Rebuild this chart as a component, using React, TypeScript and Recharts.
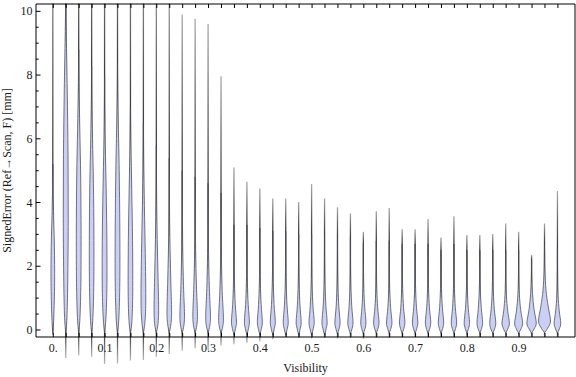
import React from 'react';
import { ComposedChart, Bar, XAxis, YAxis } from 'recharts';

// ---------- data ----------
const positions = [
  0, 0.025, 0.05, 0.075, 0.1, 0.125, 0.15, 0.175, 0.2, 0.225,
  0.25, 0.275, 0.3, 0.325, 0.35, 0.375, 0.4, 0.425, 0.45, 0.475,
  0.5, 0.525, 0.55, 0.575, 0.6, 0.625, 0.65, 0.675, 0.7, 0.725,
  0.75, 0.775, 0.8, 0.825, 0.85, 0.875, 0.9, 0.925, 0.95, 0.975,
];

const whiskerMax = [
  13, 13, 12.5, 12.5, 12.5, 12.5, 12.5, 12, 11.5, 11,
  9.9, 9.77, 9.6, 7.96, 5.1, 4.65, 4.44, 4.13, 4.13, 4.02,
  4.58, 4.13, 3.85, 3.66, 3.08, 3.73, 3.83, 3.16, 3.16, 3.48,
  2.9, 3.57, 2.98, 2.98, 3.01, 3.34, 3.08, 2.35, 3.34, 4.36,
];

const whiskerMin = [
  -0.16, -0.88, -0.8, -0.84, -1.07, -1.05, -0.96, -0.94, -0.84, -0.75,
  -0.65, -0.57, -0.63, -0.49, -0.45, -0.4, -0.36, -0.29, -0.22, -0.25,
  -0.27, -0.25, -0.27, -0.25, -0.28, -0.25, -0.24, -0.24, -0.23, -0.23,
  -0.23, -0.23, -0.23, -0.23, -0.22, -0.22, -0.22, -0.22, -0.22, -0.22,
];

// density profile knots per violin: [value, density]
const bodyProfiles: number[][][] = [
  [[-0.1, 0], [0.4, 1.0], [1.5, 1.8], [2.6, 1.6], [3.6, 0.8], [4.6, 0.2], [5.2, 0]],
  [[-0.1, 0], [0.4, 1.2], [1.5, 2.0], [3.5, 2.5], [5.5, 2.3], [7.5, 1.5], [9.2, 0.6], [10.2, 0.15]],
  [[-0.1, 0], [0.4, 1.3], [1.5, 2.2], [3.0, 2.4], [4.8, 2.0], [6.3, 1.1], [7.6, 0.4], [8.8, 0]],
  [[-0.1, 0], [0.4, 1.3], [1.5, 2.2], [3.0, 2.3], [4.6, 1.8], [6.0, 0.9], [7.2, 0.3], [8.3, 0]],
  [[-0.1, 0], [0.4, 1.4], [1.3, 2.3], [2.8, 2.3], [4.4, 1.6], [5.8, 0.7], [7.0, 0.2], [8.0, 0]],
  [[-0.1, 0], [0.4, 1.4], [1.5, 2.3], [3.2, 2.3], [5.0, 1.7], [6.3, 0.9], [7.4, 0.3], [8.4, 0]],
  [[-0.1, 0], [0.3, 1.5], [1.2, 2.3], [2.8, 2.1], [4.4, 1.3], [5.8, 0.5], [7.0, 0]],
  [[-0.1, 0], [0.3, 1.7], [1.0, 2.4], [2.4, 1.9], [3.9, 1.0], [5.3, 0.35], [6.5, 0]],
  [[-0.1, 0], [0.2, 1.7], [0.7, 2.3], [1.8, 1.6], [3.2, 0.7], [4.6, 0.2], [5.8, 0]],
  [[-0.1, 0], [0.2, 1.7], [0.6, 2.3], [1.6, 1.5], [2.9, 0.6], [4.2, 0.15], [5.4, 0]],
  [[-0.1, 0], [0.15, 1.7], [0.5, 2.3], [1.4, 1.3], [2.6, 0.5], [3.8, 0.12], [5.0, 0]],
  [[-0.1, 0], [0.15, 1.7], [0.5, 2.3], [1.4, 1.3], [2.5, 0.5], [3.7, 0.12], [4.8, 0]],
  [[-0.1, 0], [0.15, 1.8], [0.45, 2.4], [1.3, 1.3], [2.4, 0.5], [3.6, 0.1], [4.6, 0]],
  [[-0.1, 0], [0.12, 1.8], [0.4, 2.4], [1.2, 1.2], [2.2, 0.45], [3.3, 0.1], [4.3, 0]],
  [[-0.15, 0], [0.05, 1.6], [0.28, 2.5], [0.8, 1.3], [1.5, 0.5], [2.4, 0.12], [3.3, 0]],
  [[-0.15, 0], [0.05, 1.6], [0.28, 2.5], [0.8, 1.3], [1.5, 0.5], [2.4, 0.12], [3.3, 0]],
  [[-0.15, 0], [0.05, 1.6], [0.27, 2.5], [0.8, 1.3], [1.5, 0.5], [2.4, 0.12], [3.2, 0]],
  [[-0.15, 0], [0.05, 1.6], [0.27, 2.5], [0.8, 1.3], [1.5, 0.5], [2.3, 0.12], [3.1, 0]],
  [[-0.15, 0], [0.05, 1.6], [0.26, 2.5], [0.78, 1.3], [1.45, 0.5], [2.3, 0.12], [3.1, 0]],
  [[-0.15, 0], [0.05, 1.6], [0.26, 2.5], [0.78, 1.3], [1.45, 0.5], [2.3, 0.12], [3.0, 0]],
  [[-0.15, 0], [0.05, 1.7], [0.26, 2.6], [0.76, 1.35], [1.4, 0.5], [2.2, 0.12], [3.0, 0]],
  [[-0.15, 0], [0.05, 1.7], [0.26, 2.6], [0.76, 1.35], [1.4, 0.5], [2.2, 0.12], [3.0, 0]],
  [[-0.12, 0], [0.05, 1.7], [0.25, 2.6], [0.74, 1.35], [1.35, 0.5], [2.1, 0.12], [2.9, 0]],
  [[-0.12, 0], [0.05, 1.7], [0.25, 2.6], [0.74, 1.35], [1.35, 0.5], [2.1, 0.12], [2.9, 0]],
  [[-0.12, 0], [0.05, 1.7], [0.25, 2.6], [0.72, 1.35], [1.3, 0.5], [2.0, 0.12], [2.7, 0]],
  [[-0.1, 0], [0.05, 1.7], [0.25, 2.7], [0.7, 1.4], [1.3, 0.5], [2.1, 0.12], [2.8, 0]],
  [[-0.1, 0], [0.05, 1.7], [0.25, 2.7], [0.7, 1.4], [1.3, 0.5], [2.1, 0.12], [2.8, 0]],
  [[-0.1, 0], [0.05, 1.7], [0.25, 2.7], [0.7, 1.4], [1.3, 0.5], [2.0, 0.12], [2.7, 0]],
  [[-0.1, 0], [0.05, 1.7], [0.25, 2.7], [0.7, 1.4], [1.3, 0.5], [2.0, 0.12], [2.7, 0]],
  [[-0.1, 0], [0.05, 1.7], [0.25, 2.7], [0.7, 1.4], [1.3, 0.5], [2.0, 0.12], [2.7, 0]],
  [[-0.1, 0], [0.05, 1.7], [0.25, 2.7], [0.7, 1.4], [1.3, 0.5], [1.9, 0.12], [2.5, 0]],
  [[-0.1, 0], [0.05, 1.7], [0.25, 2.7], [0.7, 1.4], [1.3, 0.5], [2.0, 0.12], [2.7, 0]],
  [[-0.1, 0], [0.05, 1.7], [0.24, 2.7], [0.68, 1.4], [1.25, 0.5], [1.9, 0.12], [2.5, 0]],
  [[-0.1, 0], [0.05, 1.8], [0.24, 2.8], [0.68, 1.5], [1.25, 0.55], [1.9, 0.12], [2.5, 0]],
  [[-0.1, 0], [0.04, 1.9], [0.23, 3.0], [0.65, 1.6], [1.2, 0.6], [1.9, 0.14], [2.5, 0]],
  [[-0.1, 0], [0.04, 2.2], [0.22, 3.7], [0.6, 2.0], [1.1, 0.7], [1.8, 0.15], [2.5, 0]],
  [[-0.1, 0], [0.04, 2.4], [0.22, 4.0], [0.62, 2.1], [1.12, 0.75], [1.8, 0.15], [2.5, 0]],
  [[-0.1, 0], [0.04, 2.6], [0.22, 4.7], [0.65, 2.5], [1.15, 0.9], [1.7, 0.2], [2.2, 0]],
  [[-0.08, 0], [0.05, 3.0], [0.28, 6.0], [0.75, 3.6], [1.25, 1.5], [1.9, 0.4], [2.7, 0]],
  [[-0.1, 0], [0.04, 2.0], [0.22, 3.3], [0.6, 1.8], [1.1, 0.6], [1.8, 0.15], [2.6, 0]],
];

const xLabelValues = [0, 0.1, 0.2, 0.3, 0.4, 0.5, 0.6, 0.7, 0.8, 0.9];
const xLabelTexts = ['0.', '0.1', '0.2', '0.3', '0.4', '0.5', '0.6', '0.7', '0.8', '0.9'];
const yTickValues = [
  0, 0.5, 1, 1.5, 2, 2.5, 3, 3.5, 4, 4.5, 5, 5.5, 6, 6.5, 7, 7.5, 8, 8.5, 9, 9.5, 10,
];
const yLabelValues = [0, 2, 4, 6, 8, 10];
const yDomain = [-0.22, 10.23];
const xDomain = [-0.0334, 1.008];

const xTitle = 'Visibility';
const yTitle = 'SignedError (Ref\u2192Scan, F) [mm]';

// ---------- table ----------
const clampY = (v: number) => Math.max(yDomain[0], Math.min(yDomain[1], v));
const tableData = positions.map((p, i) => ({
  pos: p,
  lo: whiskerMin[i],
  hi: whiskerMax[i],
  profile: bodyProfiles[i],
  span: [clampY(whiskerMin[i]), clampY(whiskerMax[i])],
}));

const FONT = '"Liberation Serif", "Times New Roman", serif';
const TEXT_COLOR = '#1a1a1a';

// Catmull-Rom smooth open path through points
function smoothPath(pts: number[][], moveTo: boolean): string {
  let d = moveTo ? `M${pts[0][0]},${pts[0][1]}` : `L${pts[0][0]},${pts[0][1]}`;
  for (let i = 0; i < pts.length - 1; i++) {
    const p0 = pts[i - 1] || pts[i];
    const p1 = pts[i];
    const p2 = pts[i + 1];
    const p3 = pts[i + 2] || p2;
    const c1x = p1[0] + (p2[0] - p0[0]) / 6;
    const c1y = p1[1] + (p2[1] - p0[1]) / 6;
    const c2x = p2[0] - (p3[0] - p1[0]) / 6;
    const c2y = p2[1] - (p3[1] - p1[1]) / 6;
    d += ` C${c1x},${c1y} ${c2x},${c2y} ${p2[0]},${p2[1]}`;
  }
  return d;
}

const ViolinShape = (props: any) => {
  const { x, y, width, height, payload, index } = props;
  if (!payload || height == null) return null;
  const [a, b] = payload.span;
  const top = Math.min(y, y + height);
  const h = Math.abs(height);
  if (!(b > a) || !(h > 0)) return null;
  const k = h / (b - a);
  const toY = (v: number) => top + (b - v) * k;
  const cx = x + width / 2;
  const yTopClip = toY(yDomain[1]);
  const prof: number[][] = payload.profile;
  const bodyTop = prof[prof.length - 1][0];

  const yHi = toY(payload.hi);
  const yLo = toY(payload.lo);
  const off = (v: number) => Math.max(0, Math.min(1, (toY(v) - yHi) / (yLo - yHi)));
  const gid = `wg${index}`;

  const right = prof.map(([v, w]) => [cx + w, toY(v)]);
  const left = prof.slice().reverse().map(([v, w]) => [cx - w, toY(v)]);
  const d = smoothPath(right, true) + ' ' + smoothPath(left, false) + ' Z';

  return (
    <g>
      <defs>
        <linearGradient id={gid} gradientUnits="userSpaceOnUse" x1={cx} x2={cx} y1={yHi} y2={yLo}>
          <stop offset={0} stopColor="#a8a8a8" />
          <stop offset={off(bodyTop + 0.5 * (payload.hi - bodyTop))} stopColor="#6a6a6a" />
          <stop offset={off(bodyTop)} stopColor="#3c3c3c" />
          <stop offset={off(0)} stopColor="#303030" />
          <stop offset={1} stopColor="#b8b8b8" />
        </linearGradient>
      </defs>
      <line
        x1={cx}
        x2={cx}
        y1={Math.max(yHi, yTopClip - 0.6)}
        y2={yLo}
        stroke={`url(#${gid})`}
        strokeWidth={1.3}
      />
      <path d={d} fill="#c9cff5" stroke="#4a4a55" strokeWidth={0.75} />
    </g>
  );
};

const BottomTick = (props: any) => {
  const { x, y, payload } = props;
  const idx = xLabelValues.findIndex((v) => Math.abs(v - payload.value) < 1e-9);
  return (
    <g>
      <line x1={x} x2={x} y1={y} y2={y - 4} stroke="#000" strokeWidth={1} />
      {idx >= 0 && (
        <text x={x} y={y + 15} textAnchor="middle" fontFamily={FONT} fontSize={12} fill={TEXT_COLOR}>
          {xLabelTexts[idx]}
        </text>
      )}
    </g>
  );
};

const TopTick = (props: any) => {
  const { x, y } = props;
  return <line x1={x} x2={x} y1={y} y2={y + 4} stroke="#000" strokeWidth={1} />;
};

const isMajor = (v: number) => yLabelValues.some((m) => Math.abs(m - v) < 1e-9);

const LeftTick = (props: any) => {
  const { x, y, payload } = props;
  const major = isMajor(payload.value);
  return (
    <g>
      <line x1={x} x2={x + (major ? 4.5 : 2.7)} y1={y} y2={y} stroke="#000" strokeWidth={1} />
      {major && (
        <text x={x - 3.5} y={y + 4} textAnchor="end" fontFamily={FONT} fontSize={12} fill={TEXT_COLOR}>
          {String(payload.value)}
        </text>
      )}
    </g>
  );
};

const RightTick = (props: any) => {
  const { x, y, payload } = props;
  const major = isMajor(payload.value);
  return <line x1={x} x2={x - (major ? 4.5 : 2.7)} y1={y} y2={y} stroke="#000" strokeWidth={1} />;
};

const XTitle = (props: any) => {
  const vb = props.viewBox || {};
  return (
    <text x={vb.x + vb.width / 2} y={vb.y + 35} textAnchor="middle" fontFamily={FONT} fontSize={12} fill={TEXT_COLOR}>
      {xTitle}
    </text>
  );
};

const YTitle = (props: any) => {
  const vb = props.viewBox || {};
  const cx = 11;
  const cy = vb.y + vb.height / 2;
  return (
    <text
      x={cx}
      y={cy}
      transform={`rotate(-90, ${cx}, ${cy})`}
      textAnchor="middle"
      fontFamily={FONT}
      fontSize={12}
      fill={TEXT_COLOR}
    >
      {yTitle}
    </text>
  );
};

export default function App() {
  return (
    <div style={{ position: 'absolute', left: 0, top: 0, width: 576, height: 377, background: '#fff' }}>
      <ComposedChart
        width={576}
        height={377}
        data={tableData}
        margin={{ top: 0, right: 0, bottom: 0, left: 0 }}
      >
        <XAxis
          xAxisId={0}
          dataKey="pos"
          type="number"
          domain={xDomain}
          ticks={positions}
          interval={0}
          height={40}
          tickSize={0}
          tickMargin={0}
          tickLine={false}
          axisLine={{ stroke: '#000', strokeWidth: 1 }}
          tick={<BottomTick />}
          label={<XTitle />}
        />
        <XAxis
          xAxisId="top"
          orientation="top"
          dataKey="pos"
          type="number"
          domain={xDomain}
          ticks={positions}
          interval={0}
          height={4}
          tickSize={0}
          tickMargin={0}
          tickLine={false}
          axisLine={{ stroke: '#000', strokeWidth: 1 }}
          tick={<TopTick />}
        />
        <YAxis
          yAxisId={0}
          type="number"
          domain={yDomain}
          ticks={yTickValues}
          interval={0}
          width={36}
          tickSize={0}
          tickMargin={0}
          tickLine={false}
          axisLine={{ stroke: '#000', strokeWidth: 1 }}
          tick={<LeftTick />}
          label={<YTitle />}
        />
        <YAxis
          yAxisId="r"
          orientation="right"
          type="number"
          domain={yDomain}
          ticks={yTickValues}
          interval={0}
          width={1}
          tickSize={0}
          tickMargin={0}
          tickLine={false}
          axisLine={{ stroke: '#000', strokeWidth: 1 }}
          tick={<RightTick />}
        />
        <Bar
          xAxisId={0}
          yAxisId={0}
          dataKey="span"
          barSize={2}
          isAnimationActive={false}
          shape={<ViolinShape />}
        />
      </ComposedChart>
    </div>
  );
}
